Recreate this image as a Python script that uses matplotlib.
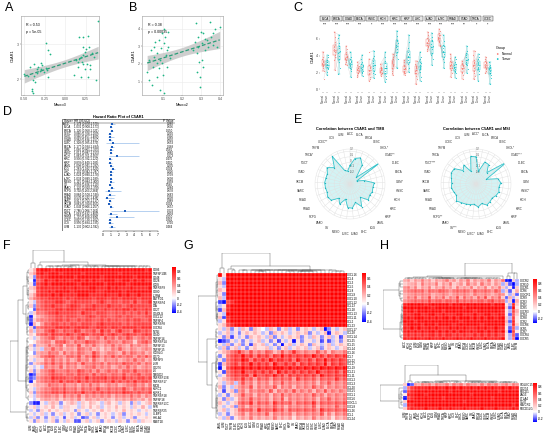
import numpy as np
import matplotlib
matplotlib.use("Agg")
import matplotlib.pyplot as plt
from matplotlib.colors import LinearSegmentedColormap, Normalize
from matplotlib.patches import Rectangle

plt.rcParams['font.family'] = ['Liberation Sans', 'DejaVu Sans']

# ---------------- data ----------------
# A / B : C5AR1 vs macrophage scores
A_X = [0.40, -0.23, -0.21, -0.19, 0.17, 0.21, 0.27, 0.21, 0.29, 0.25, 0.24, 0.22, 0.19, 0.17, 0.13, 0.16, 0.22,
       0.26, 0.30, 0.15, 0.24, 0.30, 0.11, 0.19, 0.27, 0.37,
       -0.38, -0.30, -0.33, -0.30, -0.24, -0.22, -0.31, -0.34, -0.26, -0.21, -0.38, -0.39, -0.37, -0.50, -0.40,
       -0.39, -0.41, -0.43, -0.35, -0.28, -0.45, 0.33, 0.35, 0.20]
A_Y = [3.67, 3.03, 2.84, 2.72, 3.21, 3.21, 3.22, 2.92, 2.92, 2.87, 2.77, 2.70, 2.62, 2.57, 2.55, 2.48, 2.44,
       2.44, 2.40, 2.34, 2.28, 2.28, 2.11, 2.06, 2.06, 1.98,
       2.43, 2.46, 2.35, 2.29, 2.33, 2.25, 2.22, 2.18, 2.20, 2.06, 2.08, 1.97, 1.91, 2.16, 1.73,
       1.61, 1.67, 2.35, 2.29, 2.40, 2.10, 2.75, 2.62, 2.50]
B_X = [0.017, 0.029, 0.043, 0.048, 0.055, 0.069, 0.077, 0.082, 0.095, 0.103, 0.112, 0.120, 0.129, 0.085, 0.106,
       0.069, 0.026, 0.052, 0.095, 0.120, 0.137, 0.077, 0.099, 0.060, 0.038, 0.116, 0.129, 0.090, 0.108, 0.069,
       0.273, 0.298, 0.311, 0.285, 0.329, 0.303, 0.346, 0.398, 0.363, 0.320, 0.337, 0.277, 0.290, 0.311, 0.294,
       0.277, 0.259, 0.363, 0.381, 0.294, 0.372, 0.320, 0.268, 0.285, 0.350, 0.303]
B_Y = [1.56, 1.08, 0.80, 1.85, 2.99, 2.61, 3.37, 2.23, 3.75, 3.18, 3.56, 2.80, 3.85, 0.51, 0.36,
       1.27, 2.23, 2.42, 2.04, 1.85, 2.32, 1.75, 1.37, 3.27, 2.80, 2.51, 2.99, 2.89, 3.99, 2.04,
       4.33, 3.85, 3.75, 3.56, 3.37, 3.18, 4.42, 4.13, 3.75, 2.80, 2.99, 2.61, 2.13, 1.85, 1.27,
       1.56, 2.80, 3.08, 2.99, 0.70, 3.99, 3.41, 3.27, 2.99, 3.56, 2.23]

# C : paired normal / tumour expression
C_CANCERS = ['BLCA', 'BRCA', 'COAD', 'ESCA', 'HNSC', 'KICH', 'KIRC', 'KIRP', 'LIHC', 'LUAD', 'LUSC', 'PRAD',
             'STAD', 'THCA', 'UCEC']
C_SIG = ['***', '***', '***', '***', '*', '***', '***', '***', '***', '***', '***', '***', '**', '*', '*']
C_NORMAL = [
    [3.6, 2.9, 3.3, 4.4, 2.2, 3.1, 3.9, 2.6, 3.4, 1.3, 3.0, 2.8],
    [4.6, 5.2, 3.9, 4.4, 6.2, 4.8, 3.5, 5.6, 4.1, 2.3, 5.0, 6.8],
    [3.7, 4.2, 3.3, 4.8, 3.9, 3.0, 4.4, 3.5, 2.9, 4.0, 3.6, 5.1],
    [2.4, 2.9, 1.9, 2.6, 2.2, 3.2, 1.7, 2.5, 2.0, 2.8, 1.5, 2.3],
    [2.2, 3.6, 1.8, 2.5, 1.2, 2.9, 2.0, 4.4, 1.5, 2.7, 2.3, 1.0],
    [2.2, 2.7, 1.8, 2.4, 2.0, 3.0, 1.6, 2.3, 2.6, 1.9, 2.1, 2.5],
    [3.1, 2.5, 3.6, 2.8, 4.2, 2.2, 3.3, 1.7, 2.9, 3.8, 2.0, 3.4],
    [2.4, 2.9, 2.0, 2.6, 1.7, 3.2, 2.2, 2.8, 1.9, 2.5, 3.5, 2.1],
    [2.2, 2.8, 1.6, 2.5, 3.4, 1.9, 2.3, 0.6, 2.7, 1.3, 3.0, 2.0],
    [5.5, 6.1, 5.0, 5.8, 6.5, 5.3, 4.8, 5.9, 6.8, 5.2, 5.6, 4.6],
    [6.0, 6.5, 5.6, 6.9, 5.3, 6.2, 7.2, 5.8, 6.4, 5.1, 6.1, 6.7],
    [2.8, 3.4, 2.3, 3.0, 2.0, 3.7, 2.6, 1.5, 3.2, 2.5, 4.2, 2.9],
    [2.6, 3.1, 2.1, 2.8, 1.7, 3.4, 2.4, 2.0, 2.9, 1.3, 2.5, 3.0],
    [2.8, 3.5, 2.2, 3.1, 1.6, 4.1, 2.6, 3.3, 2.0, 4.6, 2.9, 1.2],
    [3.0, 3.4, 2.6, 3.2, 2.2, 3.6, 2.8, 3.9, 2.4, 3.1, 2.7, 2.0],
]
C_TUMOR = [
    [3.2, 2.7, 3.5, 2.4, 4.1, 2.9, 2.1, 3.3, 2.6, 3.8, 1.7, 3.0],
    [4.3, 5.5, 3.6, 4.9, 2.6, 6.1, 4.0, 3.2, 5.1, 4.6, 1.8, 6.5],
    [3.1, 2.6, 3.8, 2.2, 3.4, 4.5, 2.9, 1.5, 3.2, 2.4, 3.6, 2.8],
    [2.6, 3.3, 2.1, 2.8, 1.6, 3.6, 2.4, 1.9, 2.9, 2.2, 3.0, 4.1],
    [2.8, 3.4, 2.2, 4.0, 1.8, 3.1, 2.5, 4.6, 1.4, 2.9, 3.7, 2.0],
    [2.5, 3.4, 1.9, 2.8, 1.2, 3.9, 2.2, 4.4, 1.6, 2.6, 3.1, 0.9],
    [5.0, 5.8, 4.4, 6.3, 3.6, 5.3, 4.8, 6.9, 2.6, 5.5, 4.1, 5.9],
    [3.8, 4.5, 3.2, 5.6, 2.6, 4.0, 3.5, 6.4, 2.1, 4.2, 3.0, 4.9],
    [2.7, 3.3, 2.1, 3.8, 1.5, 2.9, 4.4, 2.4, 1.0, 3.1, 2.6, 3.6],
    [5.0, 5.7, 4.3, 6.2, 3.6, 5.4, 4.8, 6.7, 2.9, 5.1, 4.1, 5.9],
    [4.6, 5.3, 3.9, 5.8, 3.2, 4.9, 6.4, 4.2, 2.5, 5.1, 4.4, 3.6],
    [2.7, 3.2, 2.2, 3.6, 1.9, 2.9, 2.4, 3.9, 1.4, 3.0, 2.6, 2.1],
    [3.5, 4.1, 2.9, 4.6, 2.4, 3.8, 3.2, 5.1, 2.0, 3.6, 4.3, 3.0],
    [3.0, 3.6, 2.4, 4.2, 1.8, 3.3, 2.7, 1.0, 3.9, 2.2, 3.1, 2.5],
    [2.4, 2.9, 1.9, 2.6, 1.4, 3.2, 2.2, 0.7, 2.7, 1.7, 2.5, 2.0],
]

# D : univariate Cox, 33 TCGA cancers
CANCERS = ['ACC', 'BLCA', 'BRCA', 'CESC', 'CHOL', 'COAD', 'DLBC', 'ESCA', 'GBM', 'HNSC', 'KICH', 'KIRC', 'KIRP',
           'LAML', 'LGG', 'LIHC', 'LUAD', 'LUSC', 'MESO', 'OV', 'PAAD', 'PCPG', 'PRAD', 'READ', 'SARC', 'SKCM',
           'STAD', 'TGCT', 'THCA', 'THYM', 'UCEC', 'UCS', 'UVM']
HR = [1.174, 1.031, 1.126, 0.886, 0.986, 0.982, 1.328, 1.177, 1.060, 1.012, 1.863, 0.936, 0.878, 1.098, 1.283,
      1.101, 1.024, 1.034, 1.115, 0.958, 1.120, 0.792, 0.884, 0.578, 0.917, 0.863, 1.043, 2.786, 1.069, 1.797,
      0.897, 0.956, 1.130]
HR_LO = [0.878, 0.908, 0.958, 0.708, 0.657, 0.834, 0.385, 0.934, 0.861, 0.887, 0.761, 0.782, 0.649, 0.941, 1.082,
         0.942, 0.890, 0.899, 0.884, 0.826, 0.910, 0.263, 0.508, 0.232, 0.752, 0.780, 0.866, 1.084, 0.632, 0.808,
         0.730, 0.684, 0.802]
HR_HI = [1.570, 1.171, 1.321, 1.109, 1.480, 1.157, 4.579, 1.484, 1.305, 1.155, 4.563, 1.120, 1.189, 1.282, 1.520,
         1.287, 1.178, 1.189, 1.406, 1.110, 1.378, 2.384, 1.538, 1.438, 1.117, 0.955, 1.257, 7.162, 1.809, 3.996,
         1.102, 1.335, 1.592]
HR_P = [0.280, 0.636, 0.150, 0.290, 0.946, 0.830, 0.653, 0.168, 0.581, 0.860, 0.173, 0.470, 0.400, 0.235, 0.004,
        0.226, 0.739, 0.638, 0.358, 0.565, 0.284, 0.678, 0.663, 0.238, 0.389, 0.004, 0.657, 0.033, 0.803, 0.150,
        0.301, 0.790, 0.484]

# E : radar correlations
TMB_R = [-0.05, 0.08, 0.12, 0.02, -0.22, 0.30, -0.25, -0.12, 0.05, 0.03, 0.04, 0.02, 0.05, -0.08, 0.07, -0.04,
         0.05, 0.04, -0.10, 0.02, -0.06, 0.06, 0.08, 0.05, 0.06, 0.07, 0.06, 0.06, 0.12, 0.02, 0.20, -0.12, -0.15]
TMB_LAB = ['ACC', 'BLCA', 'BRCA', 'CESC', 'CHOL*', 'COAD**', 'DLBC', 'ESCA', 'GBM*', 'HNSC', 'KICH', 'KIRC', 'KIRP',
           'LAML', 'LGG', 'LIHC', 'LUAD', 'LUSC', 'MESO', 'OV', 'PAAD', 'PCPG', 'PRAD', 'READ', 'SARC', 'SKCM',
           'STAD', 'TGCT', 'THCA*', 'THYM', 'UCEC**', 'UCS', 'UVM']
MSI_R = [0.10, -0.15, 0.04, 0.03, -0.10, 0.30, -0.18, 0.02, 0.06, 0.03, 0.05, 0.03, 0.00, 0.02, 0.04, -0.02,
         0.03, -0.02, 0.00, 0.02, 0.04, 0.08, 0.02, 0.04, 0.06, 0.05, 0.07, 0.10, 0.09, -0.05, 0.02, -0.14, 0.12]
MSI_LAB = ['ACC*', 'BLCA', 'BRCA', 'CESC', 'CHOL*', 'COAD***', 'DLBC', 'ESCA', 'GBM', 'HNSC*', 'KICH', 'KIRC',
           'KIRP', 'LAML', 'LGG', 'LIHC', 'LUAD', 'LUSC*', 'MESO', 'OV***', 'PAAD', 'PCPG**', 'PRAD', 'READ',
           'SARC', 'SKCM', 'STAD', 'TGCT***', 'THCA', 'THYM', 'UCEC', 'UCS', 'UVM']

# F-H : correlation heatmaps, one character per cell
# '0'..'9' -> 0.0..0.9, 'a'..'d' -> -0.1..-0.4
F_ROWS = ['CD86', 'TNFSF13B', 'CD48', 'CD28', 'ICOS', 'TNFRSF9', 'CD80', 'IL2RA', 'ENTPD1', 'TNFRSF4', 'LTA',
          'CD27', 'CD40LG', 'CXCL12', 'TNFSF4', 'TNFRSF8', 'CXCR4', 'NT5E', 'CD40', 'TNFSF14', 'TNFRSF14',
          'TNFSF13', 'TNFSF15', 'ICOSLG', 'CD70', 'TNFSF9', 'IL6R', 'CD276', 'IL6', 'TMIGD2', 'TNFRSF13B',
          'TNFRSF17', 'MICB', 'KLRC1', 'KLRK1', 'TNFRSF18', 'TNFSF18', 'TNFRSF13C', 'PVR', 'TNFRSF25', 'ULBP1',
          'HHLA2', 'RAET1E']
F_COLS = ['UVM', 'LAML', 'TGCT', 'KICH', 'ACC', 'THYM', 'LGG', 'PCPG', 'DLBC', 'GBM', 'KIRC', 'UCS', 'PRAD',
          'MESO', 'LIHC', 'THCA', 'KIRP', 'CHOL', 'SARC', 'PAAD', 'BRCA', 'OV', 'SKCM', 'UCEC', 'BLCA', 'LUAD',
          'LUSC', 'CESC', 'HNSC', 'ESCA', 'STAD', 'COAD', 'READ']
F_CELLS = [
    "13899989999 99999999999 99999999989",
    "24898999899 99989999999 99899999999",
    "1b788999999 98999999899 99999989999",
    "0d679889898 89989898899 98899898988",
    "1c789899999 99899999989 99998999999",
    "23788888898 89888998889 89888988889",
    "12788989999 89999998899 99989999999",
    "24788898988 88999888898 88989889888",
    "35677888878 78888878887 88788887888",
    "1a567778876 78777767876 77677686778",
    "2b567787767 88767787778 77767877777",
    "0c667778878 88778887787 78788787787",
    "a2556778777 77687767776 67676767686",
    "d1345667767 77667876776 67767766677",
    "c2455667767 66767766767 67667677667",
    "d3146677676 77677767877 77767677777",
    "2c567778888 78888778887 88788887888",
    "3a446786576 68756675867 57866587676",
    "21567687778 76787677867 87678776787",
    "1a245675465 65763556475 64657645656",
    "01345536675 46557665456 55465525675",
    "2b334645625 54735464354 64543645453",
    "1a2a4464534 43654534243 54643543454",
    "0b344655364 54654475345 54364654534",
    "12356775546 65746586465 75656646575",
    "1a225464535 34645364354 45345464534",
    "b2346575646 56475565646 56576656465",
    "1a1a5454635 45345564545 34546453454",
    "2b245675556 55765646456 56466575565",
    "dc345676656 65766575665 66575667566",
    "cb456687776 67768677786 77686767767",
    "d1456676867 76867677676 86767686776",
    "12334655464 45354645345 45345564535",
    "1a345566575 56465657556 56575465656",
    "2b456677686 67686676767 67687767667",
    "1a345545364 54635454545 35454645354",
    "0a134434243 43524434343 24343543424",
    "bdd1a232b12 32a21321a23 12a21b2a123",
    "12a12131a22 11a21312a12 13121a2131a",
    "a1b21312122 1b21a121312 1213121a121",
    "1a12a1b12a1 21b12a1b121 a12b12121a1",
    "a2b1b12a1c1 2a1cb12a121 b12a12b1121",
    "1b21a12b1a2 1cc12a12b12 1a21b12a211",
]
G_ROWS = ['CXCL16', 'CCL4', 'CCL3', 'CCL5', 'CCL8', 'CXCL9', 'CXCL10', 'CXCL12', 'CCL13', 'CCL18', 'CXCL13',
          'CXCL11', 'CCL2', 'CCL23', 'CXCL17', 'CCL28', 'CXCL14', 'CCL25', 'CCL15', 'CCL14', 'CCL16', 'CCL7',
          'CCL22', 'CCL17', 'CCL19', 'CCL21', 'CCL11', 'CXCL2', 'CXCL3', 'CCL20', 'CXCL5', 'CXCL1', 'CXCL6',
          'CX3CL1', 'CXCL8', 'CCL26', 'CCL1', 'CCL24']
G_COLS = ['LAML', 'UVM', 'TGCT', 'THYM', 'DLBC', 'PCPG', 'KICH', 'LGG', 'ACC', 'GBM', 'UCS', 'PRAD', 'KIRC',
          'THCA', 'MESO', 'SARC', 'LIHC', 'CHOL', 'KIRP', 'OV', 'PAAD', 'BRCA', 'SKCM', 'UCEC', 'CESC', 'HNSC',
          'LUSC', 'LUAD', 'BLCA', 'ESCA', 'STAD', 'READ', 'COAD']
G_CELLS = [
    "71899989999 99989989999 99999899999",
    "1a889999999 99999999989 99999999999",
    "2b888999989 99899999999 99999989999",
    "1a889999999 99998999999 99989999999",
    "21788898989 89999899989 99989999899",
    "1b889999999 99999999899 99999999999",
    "2a788899999 99999989999 99999999989",
    "cd567788788 78878887787 88787788877",
    "a1678889888 89888898889 88898889888",
    "c2678898998 89899889899 89889899889",
    "1a788999899 99899999899 99999899999",
    "2c678888988 89889888898 88988898988",
    "a1678899898 89899899898 99898989898",
    "12567778787 78778787787 78787877877",
    "1a2b1a21b21 0a21b12a1b1 21a12db1a12",
    "a12a1b12121 a1b2121a121 2b1a12d121a",
    "1b2c1a1b212 1a2b1a1212b 1a21b12a1c1",
    "dcb1a1b1a12 a1b1c1a1d1b 11a1c1ca1b1",
    "1a2b12b1c21 2a1b1d12a12 1b21a12a121",
    "a2b12a1b121 12a1b12a121 2a12b121a12",
    "12345643534 35423534643 43353424334",
    "b1456575646 56465756565 65756465656",
    "1b456576465 65756656475 56465756565",
    "c2456465756 56475565646 56565746565",
    "d1567686767 67687767676 76768676767",
    "1c456575565 65647565656 56575565646",
    "a1456566475 56575646565 65647565656",
    "12345464535 45354545364 54535454645",
    "1a23a353424 34243534343 43424353434",
    "2b1a2343524 34352434243 43534243434",
    "1c12b342434 43524343534 34243534343",
    "a1b12353424 34243534343 43534243434",
    "1b2a1343534 34243524343 43424353434",
    "21a12454635 45364545354 54635454545",
    "1a12b342434 34353424343 43524343534",
    "12a12454536 45464535454 54536454545",
    "a1b12342434 35243434243 43435242434",
    "1a2b1232423 23242323132 32423231323",
]
HT_ROWS = ['CXCR2', 'CCR10', 'CXCR1', 'CCR6', 'CX3CR1', 'CCR9', 'CCR3', 'CCR1', 'CCR5', 'CXCR3', 'CCR4', 'CCR8',
           'CCR2', 'CXCR6', 'XCR1', 'CCR7', 'CXCR4', 'CXCR5']
HT_COLS = ['ACC', 'KICH', 'PCPG', 'UVM', 'LGG', 'GBM', 'PRAD', 'THCA', 'KIRP', 'KIRC', 'LIHC', 'CHOL', 'MESO',
           'SARC', 'OV', 'UCS', 'PAAD', 'BRCA', 'UCEC', 'CESC', 'SKCM', 'HNSC', 'LUSC', 'LUAD', 'BLCA', 'ESCA',
           'STAD', 'READ', 'COAD', 'TGCT', 'LAML', 'DLBC', 'THYM']
HT_CELLS = [
    "34243534243 45342435243 4352435cd2a",
    "23342534352 43523425342 534243a2bda",
    "45352435243 53425343524 3524352a1c2",
    "45565646556 65456565465 565465a2b13",
    "34454545344 54345454354 45434541a2b",
    "35463547354 63547364536 4735462b3a1",
    "45565657566 56657565656 6567565a2c3",
    "89999989999 99899999999 99989991a82",
    "99999999899 99999989999 99999992b91",
    "89989999999 89999999989 99999981a73",
    "88899889988 98889988898 89988981b62",
    "89899989898 99898999898 98998992a71",
    "99989999999 99999899999 99999993b81",
    "89999899989 99989999999 89999992a82",
    "88989889898 88989898889 89889881b6a",
    "89898989989 89898998989 98989892c71",
    "78787878878 78878787787 87878771a6b",
    "88898889888 98889888988 89888891a5d",
]
HB_ROWS = ['SIGLEC15', 'CD274', 'PDCD1', 'LAG3', 'CTLA4', 'TIGIT', 'HAVCR2', 'PDCD1LG2']
HB_COLS = ['UVM', 'THYM', 'TGCT', 'LAML', 'DLBC', 'KICH', 'ACC', 'PCPG', 'LGG', 'GBM', 'PRAD', 'THCA', 'KIRP',
           'KIRC', 'UCS', 'LIHC', 'CHOL', 'MESO', 'SARC', 'OV', 'PAAD', 'BRCA', 'UCEC', 'CESC', 'SKCM', 'HNSC',
           'LUSC', 'LUAD', 'BLCA', 'ESCA', 'STAD', 'READ', 'COAD']
HB_CELLS = [
    "2cb43545354 45354535443 53545345354",
    "a5788889898 89898988989 89898898988",
    "b7899999999 99899999999 99999899999",
    "18899989999 99999999899 99999999999",
    "c7899999999 89999999999 99989999999",
    "29999999999 99999989999 99999999999",
    "a8899999999 99999999999 99999999989",
    "27888898889 88988898888 98889888898",
]

# ---------------- helpers ----------------
W, H = 550, 442
fig = plt.figure(figsize=(5.5, 4.42), dpi=100)
GREEN = "#1DB584"
RED_N = "#F8766D"
CYAN_T = "#00BFC4"


def pax(x0, y0, x1, y1, **kw):
    # axes from pixel box (top-left origin)
    return fig.add_axes([x0 / W, 1 - y1 / H, (x1 - x0) / W, (y1 - y0) / H], **kw)


def decode(rows, ncol):
    out = []
    for i, s in enumerate(rows):
        s = s.replace(" ", "")
        if len(s) != ncol:
            raise ValueError("row %d has %d cells" % (i, len(s)))
        out.append([int(c) / 10 if c.isdigit() else -(ord(c) - 96) / 10 for c in s])
    return np.array(out)


def adj_tree(mat):
    # ward-like merging of neighbours only, so the drawn order is kept
    groups = [[i] for i in range(len(mat))]
    pos = [float(i) for i in range(len(mat))]
    hts = [0.0] * len(mat)
    segs = []
    while len(groups) > 1:
        costs = []
        for k in range(len(groups) - 1):
            a, b = groups[k], groups[k + 1]
            d = np.linalg.norm(mat[a].mean(0) - mat[b].mean(0))
            costs.append(np.sqrt(2 * len(a) * len(b) / (len(a) + len(b))) * d)
        k = int(np.argmin(costs))
        h = max(costs[k], hts[k], hts[k + 1]) + 0.02
        segs.append((pos[k], hts[k], pos[k + 1], hts[k + 1], h))
        groups[k:k + 2] = [groups[k] + groups[k + 1]]
        pos[k:k + 2] = [(pos[k] + pos[k + 1]) / 2]
        hts[k:k + 2] = [h]
    return segs


def draw_tree(ax, segs, n, vertical):
    top = max(s[4] for s in segs)
    for xa, ha, xb, hb, h in segs:
        xs = [xa, xa, xb, xb]
        ys = [ha, h, h, hb]
        if vertical:
            ax.plot(xs, ys, color="#555555", lw=0.3)
        else:
            ax.plot(ys, xs, color="#555555", lw=0.3)
    if vertical:
        ax.set_xlim(-0.5, n - 0.5)
        ax.set_ylim(0, top * 1.02)
    else:
        ax.set_ylim(n - 0.5, -0.5)
        ax.set_xlim(top * 1.02, 0)
    ax.axis("off")


def heatmap(cells, rlabels, clabels, box, top_h, left_w, cbox, vmin, vmax, cticks):
    mat = decode(cells, len(clabels))
    n, m = mat.shape
    f = -vmin / (vmax - vmin)
    cmap = LinearSegmentedColormap.from_list("bwr_", [(0, "#0000FF"), (f, "#FFFFFF"), (1, "#FF0000")])
    x0, y0, x1, y1 = box
    ax = pax(x0, y0, x1, y1)
    im = ax.imshow(mat, cmap=cmap, norm=Normalize(vmin, vmax), aspect="auto", interpolation="nearest")
    # thin white cell borders
    ax.hlines(np.arange(n + 1) - 0.5, -0.5, m - 0.5, color="white", lw=0.2, alpha=0.9)
    ax.vlines(np.arange(m + 1) - 0.5, -0.5, n - 0.5, color="white", lw=0.2, alpha=0.9)
    ax.set_xlim(-0.5, m - 0.5)
    ax.set_ylim(n - 0.5, -0.5)
    ax.set_yticks(range(n))
    ax.set_yticklabels(rlabels, fontsize=2.1)
    ax.yaxis.tick_right()
    ax.set_xticks(range(m))
    ax.set_xticklabels(clabels, rotation=90, fontsize=2.1)
    ax.tick_params(length=0, pad=0.6)
    for s in ax.spines.values():
        s.set_visible(False)
    draw_tree(pax(x0, y0 - top_h, x1, y0), adj_tree(mat.T), m, True)
    draw_tree(pax(x0 - left_w, y0, x0, y1), adj_tree(mat), n, False)
    cax = pax(*cbox)
    cb = fig.colorbar(im, cax=cax, ticks=cticks)
    cb.ax.set_yticklabels([("%g" % t) for t in cticks])
    cb.ax.tick_params(labelsize=2.3, length=0, pad=0.8)
    cb.outline.set_visible(False)


def scatter_panel(ax, xs, ys, xticks, xtlab, yticks, xlim, ylim, xlab, rtxt, ptxt):
    xs, ys = np.asarray(xs), np.asarray(ys)
    k, b = np.polyfit(xs, ys, 1)
    gx = np.linspace(xs.min(), xs.max(), 60)
    fit = k * gx + b
    n = len(xs)
    s = np.sqrt(np.sum((ys - (k * xs + b)) ** 2) / (n - 2))
    se = s * np.sqrt(1 / n + (gx - xs.mean()) ** 2 / np.sum((xs - xs.mean()) ** 2))
    ax.fill_between(gx, fit - 2 * se, fit + 2 * se, color="#C6C6C6", alpha=0.85, lw=0, zorder=2)
    ax.plot(gx, fit, ls=(0, (3, 1.6)), color="#2A9D78", lw=0.9, zorder=3)
    ax.scatter(xs, ys, s=1.6, color=GREEN, lw=0, zorder=4)
    ax.set_xlim(xlim)
    ax.set_ylim(ylim)
    ax.set_xticks(xticks)
    ax.set_xticklabels(xtlab)
    ax.set_yticks(yticks)
    ax.grid(color="#EBEBEB", lw=0.4)
    ax.set_axisbelow(True)
    for sp in ax.spines.values():
        sp.set_color("#9A9A9A")
        sp.set_linewidth(0.4)
    ax.tick_params(labelsize=2.5, length=1, width=0.3, pad=0.8, colors="#4D4D4D")
    ax.set_xlabel(xlab, fontsize=2.8, labelpad=1)
    ax.set_ylabel("C5AR1", fontsize=2.8, labelpad=1)
    ax.text(0.07, 0.89, rtxt, transform=ax.transAxes, fontsize=2.6, va="center")
    ax.text(0.07, 0.80, ptxt, transform=ax.transAxes, fontsize=2.6, va="center")


def radar(cx, cy, vals, labels, title):
    R = 35
    ax = pax(cx - R, cy - R, cx + R, cy + R, projection="polar")
    ang = np.arange(len(vals)) * 2 * np.pi / len(vals)
    ax.set_theta_zero_location("N")
    ax.set_theta_direction(-1)
    ax.set_ylim(-0.38, 0.24)
    ax.set_yticks([-0.2, -0.1, 0, 0.1, 0.2])
    ax.set_yticklabels(["-0.2", "-0.1", "0", "0.1", "0.2"], fontsize=2, color="#555555")
    ax.set_rlabel_position(0)
    ax.set_xticks(ang)
    ax.set_xticklabels(labels, fontsize=2.1, color="#333333")
    ax.tick_params(axis="x", pad=0.2)
    ax.grid(color="#E2E2E2", lw=0.35)
    ax.spines["polar"].set_color("#E2E2E2")
    ax.spines["polar"].set_linewidth(0.35)
    v = np.r_[vals, vals[:1]]
    a = np.r_[ang, ang[:1]]
    ax.fill(a, v, color="#9FE6E8", alpha=0.45, lw=0)
    ax.plot(a, v, color="#33C3CB", lw=0.6)
    ax.scatter(ang, vals, s=0.9, color="#1FB4BD", zorder=4, lw=0)
    fig.text(cx / W, 1 - (cy - 55) / H, title, ha="center", va="center", fontsize=2.8, fontweight="bold")


# ---------------- panel letters ----------------
for lab, x, y in [("A", 9, 8), ("B", 133, 8), ("C", 298, 8), ("D", 8, 112), ("E", 298, 120),
                  ("F", 7, 246), ("G", 188, 246), ("H", 384, 246)]:
    fig.text(x / W, 1 - y / H, lab, fontsize=9, ha="center", va="center")

# ---------------- A, B ----------------
scatter_panel(pax(21, 16, 99, 95), A_X, A_Y, [-0.5, -0.25, 0, 0.25], ["-0.50", "-0.25", "0.00", "0.25"],
              [2, 3], (-0.54, 0.41), (1.55, 3.8), "Macro3", "R = 0.53", "p = 5e-05")
scatter_panel(pax(142, 16, 223, 95), B_X, B_Y, [0.1, 0.2, 0.3, 0.4], ["0.1", "0.2", "0.3", "0.4"],
              [1, 2, 3, 4], (-0.01, 0.415), (0.23, 4.74), "Macro2", "R = 0.38", "p = 0.00035")

# ---------------- C ----------------
nf = len(C_CANCERS)
gap = 1.2
fw = (493 - 320 - gap * (nf - 1)) / nf
for i, name in enumerate(C_CANCERS):
    xa = 320 + i * (fw + gap)
    ax = pax(xa, 22, xa + fw, 92)
    nv, tv = np.array(C_NORMAL[i]), np.array(C_TUMOR[i])
    jit = (np.arange(len(nv)) % 5 - 2) * 0.09
    for j in range(len(nv)):
        ax.plot([0 + jit[j], 1 + jit[j]], [nv[j], tv[j]], color="#BDBDBD", lw=0.2, alpha=0.8, zorder=1)
    for pos, vals, col in [(0, nv, RED_N), (1, tv, CYAN_T)]:
        ax.boxplot([vals], positions=[pos], widths=0.55, showfliers=False,
                   boxprops=dict(color=col, lw=0.3), whiskerprops=dict(color=col, lw=0.3),
                   capprops=dict(color=col, lw=0.3), medianprops=dict(color=col, lw=0.4))
        ax.scatter(pos + jit, vals, s=0.6, color=col, lw=0, zorder=3, alpha=0.8)
    ax.set_xlim(-0.7, 1.7)
    ax.set_ylim(-0.3, 8)
    ax.set_xticks([0, 1])
    ax.set_xticklabels(["Normal", "Tumor"], rotation=90, fontsize=2)
    ax.tick_params(length=0.8, width=0.3, pad=0.5, colors="#444444")
    for sp in ax.spines.values():
        sp.set_visible(False)
    if i == 0:
        ax.set_yticks([0, 2, 4, 6])
        ax.tick_params(axis="y", labelsize=2.5)
        ax.set_ylabel("C5AR1", fontsize=2.8, labelpad=1)
    else:
        ax.set_yticks([])
    ax.add_patch(Rectangle((0, 1.014), 1, 0.065, transform=ax.transAxes, clip_on=False,
                           fc="#E6E6E6", ec="#333333", lw=0.3))
    ax.text(0.5, 1.046, name, transform=ax.transAxes, ha="center", va="center", fontsize=2)
    ax.text(0.5, 7.65, C_SIG[i], ha="center", va="center", fontsize=2.4)

lg = pax(494, 45, 525, 63)
lg.axis("off")
lg.set_xlim(0, 1)
lg.set_ylim(1, 0)
lg.text(0.05, 0.15, "Group", fontsize=2.6, va="center")
lg.scatter([0.12, 0.12], [0.5, 0.78], s=1.5, color=[RED_N, CYAN_T], lw=0)
lg.text(0.25, 0.5, "Normal", fontsize=2.3, va="center")
lg.text(0.25, 0.78, "Tumor", fontsize=2.3, va="center")

# ---------------- D ----------------
ax = pax(62, 119, 175, 231)
nr = len(CANCERS)
ax.set_xlim(-5.18, 9.2)
ax.set_ylim(nr + 0.4, -1.6)
ax.add_patch(Rectangle((-5.15, -1.55), 14.3, nr + 1.9, fill=False, ec="#222222", lw=0.4))
ax.plot([-5.15, 9.15], [-0.45, -0.45], color="#222222", lw=0.3)
ax.text(-5.0, -1.0, "Cancer", fontsize=2.2, va="center")
ax.text(-3.6, -1.0, "HR (95%CI)", fontsize=2.2, va="center")
ax.text(9.0, -1.0, "P Value", fontsize=2.2, va="center", ha="right")
ax.axvline(1, color="#BBBBBB", lw=0.3, ls=":", ymin=0.02, ymax=0.95)
for i in range(nr):
    ax.text(-5.0, i, CANCERS[i], fontsize=2, va="center")
    ax.text(-3.6, i, "%.3f (%.3f-%.3f)" % (HR[i], HR_LO[i], HR_HI[i]), fontsize=2, va="center")
    ax.text(9.0, i, "%.3f" % HR_P[i], fontsize=2, va="center", ha="right")
ax.hlines(range(nr), HR_LO, HR_HI, color="#8DB6E8", lw=0.45)
ax.scatter(HR, range(nr), marker="s", s=1.6, color="#1F5FBF", lw=0, zorder=3)
for sp in ["top", "right", "left"]:
    ax.spines[sp].set_visible(False)
ax.spines["bottom"].set_bounds(0, 7)
ax.spines["bottom"].set_linewidth(0.3)
ax.set_yticks([])
ax.set_xticks(range(8))
ax.tick_params(axis="x", labelsize=2.3, length=0.8, width=0.3, pad=0.6)
ax.set_title("Hazard Ratio Plot of C5AR1", fontsize=2.8, fontweight="bold", pad=1)

# ---------------- E ----------------
radar(350, 184, TMB_R, TMB_LAB, "Correlation between C5AR1 and TMB")
radar(476, 184, MSI_R, MSI_LAB, "Correlation between C5AR1 and MSI")

# ---------------- F, G, H ----------------
heatmap(F_CELLS, F_ROWS, F_COLS, (29, 268, 152, 423), 18, 19, (172, 267, 176, 313), -0.45, 0.95,
        [0.8, 0.6, 0.4, 0.2, 0, -0.2, -0.4])
heatmap(G_CELLS, G_ROWS, G_COLS, (218, 273, 346, 420), 20, 20, (362, 273, 366, 322), -0.42, 0.72,
        [0.6, 0.4, 0.2, 0, -0.2, -0.4])
heatmap(HT_CELLS, HT_ROWS, HT_COLS, (403, 279, 519, 340), 16, 20, (533, 279, 537, 323), -0.32, 0.92,
        [0.8, 0.6, 0.4, 0.2, 0, -0.2])
heatmap(HB_CELLS, HB_ROWS, HB_COLS, (403, 383, 519, 410), 18, 23, (533, 383, 537, 422), -0.32, 0.92,
        [0.8, 0.6, 0.4, 0.2, 0, -0.2])

fig.savefig("out.png", dpi=100)
